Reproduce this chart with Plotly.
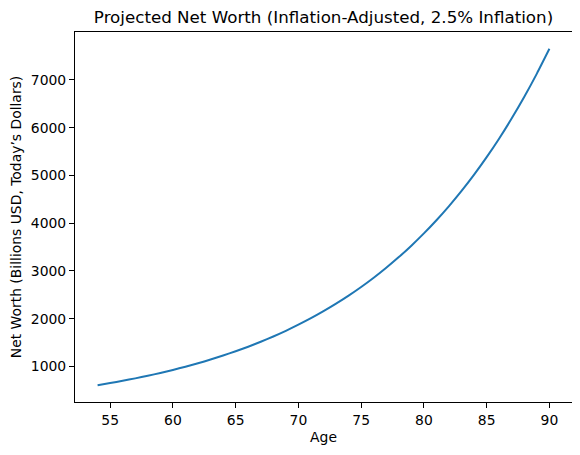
import plotly.graph_objects as go

# values, one per year of age
ages = list(range(54, 91))
net_worth = [
    608, 652, 700, 751, 806, 864, 927, 995, 1067, 1145,
    1229, 1318, 1414, 1517, 1628, 1746, 1874, 2010, 2157, 2314,
    2482, 2663, 2857, 3066, 3289, 3529, 3786, 4062, 4358, 4675,
    5016, 5382, 5774, 6195, 6646, 7131, 7650,
]
x_ticks = [55, 60, 65, 70, 75, 80, 85, 90]
y_ticks = [1000, 2000, 3000, 4000, 5000, 6000, 7000]

font = "DejaVu Sans, Liberation Sans, sans-serif"

fig = go.Figure()
fig.add_trace(go.Scatter(x=ages, y=net_worth, mode="lines",
                         line=dict(color="#1f77b4", width=2, shape="spline", smoothing=0.6)))

axis_style = dict(showline=True, linecolor="black", linewidth=1, mirror=True,
                  showgrid=False, zeroline=False, ticks="outside", ticklen=5,
                  tickwidth=1, tickcolor="black", automargin=False,
                  tickfont=dict(family=font, size=13.9, color="black"))

fig.update_xaxes(range=[52.2, 91.8], tickvals=x_ticks,
                 title=dict(text="Age", standoff=5,
                            font=dict(family=font, size=13.9, color="black")),
                 **axis_style)
fig.update_yaxes(range=[256, 8002], tickvals=y_ticks,
                 title=dict(text="Net Worth (Billions USD, Today\u2019s Dollars)", standoff=8,
                            font=dict(family=font, size=13.9, color="black")),
                 **axis_style)

# the page body adds an 8px margin, so the figure is a little smaller than the window
fig.update_layout(
    width=572, height=447,
    margin=dict(l=67, r=8, t=24, b=53),
    plot_bgcolor="white", paper_bgcolor="white",
    showlegend=False,
    title=dict(text="Projected Net Worth (Inflation-Adjusted, 2.5% Inflation)",
               x=0.5, xref="paper", xanchor="center",
               y=1 - 9 / 447, yref="container", yanchor="middle",
               font=dict(family=font, size=16.7, color="black")),
)

fig.write_html("out.html")
